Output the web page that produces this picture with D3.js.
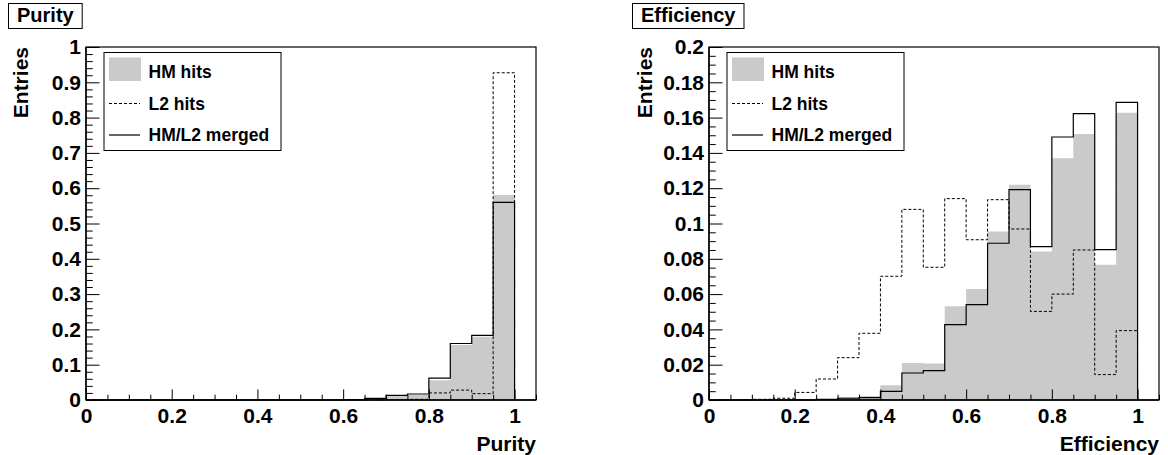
<!DOCTYPE html>
<html>
<head>
<meta charset="utf-8">
<script src="https://cdn.jsdelivr.net/npm/d3@7"></script>
<style>
  html, body { margin: 0; padding: 0; background: #fff; }
  svg { display: block; }
  text { font-family: "Liberation Sans", Arial, Helvetica, sans-serif; font-weight: bold; fill: #000; }
</style>
</head>
<body>
<svg id="chart" width="1168" height="455"></svg>
<script>
// ---------- DATA ----------
const binEdges = [0,0.05,0.1,0.15,0.2,0.25,0.3,0.35,0.4,0.45,0.5,0.55,0.6,0.65,0.7,0.75,0.8,0.85,0.9,0.95,1.0];
const seriesNames = ["HM hits", "L2 hits", "HM/L2 merged"];

const purityHM     = [0,0,0,0,0,0,0,0,0,0,0,0,0.001,0.003,0.011,0.014,0.056,0.156,0.179,0.581];
const purityL2     = [0,0,0,0,0,0,0,0,0,0,0,0,0,0.0005,0.001,0.002,0.020,0.028,0.018,0.927];
const purityMerged = [0,0,0,0,0,0,0,0,0,0,0,0,0.001,0.0047,0.013,0.017,0.062,0.160,0.183,0.560];

const effHM     = [0,0,0,0,0,0.0003,0.0017,0.0023,0.0083,0.0209,0.0207,0.0531,0.0629,0.0954,0.122,0.0842,0.137,0.1507,0.0767,0.1628];
const effL2     = [0,0,0.0004,0.001,0.0043,0.0119,0.024,0.0378,0.0701,0.108,0.0752,0.1141,0.0908,0.1135,0.0969,0.0502,0.060,0.085,0.0144,0.0393];
const effMerged = [0,0,0,0,0,0.0003,0.001,0.0013,0.0049,0.0153,0.0166,0.0427,0.054,0.0888,0.1192,0.0869,0.149,0.1622,0.0852,0.1686];

const xTickValues = [0,0.2,0.4,0.6,0.8,1];
const xTickLabels = ["0","0.2","0.4","0.6","0.8","1"];
const purityYTickValues = [0,0.1,0.2,0.3,0.4,0.5,0.6,0.7,0.8,0.9,1];
const purityYTickLabels = ["0","0.1","0.2","0.3","0.4","0.5","0.6","0.7","0.8","0.9","1"];
const effYTickValues = [0,0.02,0.04,0.06,0.08,0.1,0.12,0.14,0.16,0.18,0.2];
const effYTickLabels = ["0","0.02","0.04","0.06","0.08","0.1","0.12","0.14","0.16","0.18","0.2"];

// ---------- LAYOUT ----------
const svg = d3.select("#chart");
const FILL_GRAY = "#cacaca";
const FONT = "'Liberation Sans', Arial, Helvetica, sans-serif";

const panels = [
  { title: "Purity", xTitle: "Purity", left: 86, right: 536, top: 47, bottom: 400,
    xMax: 1.05, yMax: 1.0, yMinorStep: 0.02,
    yTicks: purityYTickValues, yLabels: purityYTickLabels,
    hm: purityHM, l2: purityL2, merged: purityMerged,
    titleX: 8.5, yTitleX: 28 },
  { title: "Efficiency", xTitle: "Efficiency", left: 709, right: 1159, top: 47, bottom: 400,
    xMax: 1.05, yMax: 0.2, yMinorStep: 0.005,
    yTicks: effYTickValues, yLabels: effYTickLabels,
    hm: effHM, l2: effL2, merged: effMerged,
    titleX: 632.5, yTitleX: 652 }
];

function stepPoints(vals) {
  const pts = [[binEdges[0], 0]];
  vals.forEach((v, i) => { pts.push([binEdges[i], v]); pts.push([binEdges[i + 1], v]); });
  pts.push([binEdges[binEdges.length - 1], 0]);
  return pts;
}

panels.forEach(p => {
  const x = d3.scaleLinear().domain([0, p.xMax]).range([p.left, p.right]);
  const y = d3.scaleLinear().domain([0, p.yMax]).range([p.bottom, p.top]);
  const g = svg.append("g");

  g.append("rect").attr("x", p.left).attr("y", p.top)
    .attr("width", p.right - p.left).attr("height", p.bottom - p.top)
    .attr("fill", "#fff");

  // HM filled histogram
  const area = d3.area().x(d => x(d[0])).y0(y(0)).y1(d => y(d[1]));
  g.append("path").datum(stepPoints(p.hm)).attr("d", area).attr("fill", FILL_GRAY).attr("stroke", "none");

  const line = d3.line().x(d => x(d[0])).y(d => y(d[1]));
  g.append("path").datum(stepPoints(p.l2)).attr("d", line)
    .attr("fill", "none").attr("stroke", "#000").attr("stroke-width", 1)
    .attr("stroke-dasharray", "3,2");
  g.append("path").datum(stepPoints(p.merged)).attr("d", line)
    .attr("fill", "none").attr("stroke", "#000").attr("stroke-width", 1.2);

  // frame
  g.append("rect").attr("x", p.left).attr("y", p.top)
    .attr("width", p.right - p.left).attr("height", p.bottom - p.top)
    .attr("fill", "none").attr("stroke", "#000").attr("stroke-width", 1.2);

  // X axis minor ticks
  const xMinor = d3.range(0, p.xMax + 1e-9, 0.05).filter(v => Math.abs(v / 0.2 - Math.round(v / 0.2)) > 1e-6);
  g.append("g").attr("transform", `translate(0,${p.bottom})`)
    .call(d3.axisBottom(x).tickValues(xMinor).tickSize(-5.3).tickFormat(""))
    .call(a => a.select(".domain").remove());
  const xa = g.append("g").attr("transform", `translate(0,${p.bottom})`)
    .call(d3.axisBottom(x).tickValues(xTickValues).tickSize(-10.6).tickPadding(8.5)
      .tickFormat((d, i) => xTickLabels[i]));
  xa.select(".domain").remove();
  xa.selectAll("text").style("font-size", "21px").style("font-family", FONT).style("font-weight", "bold");

  // Y axis
  const yMinor = d3.range(0, p.yMax + 1e-9, p.yMinorStep)
    .filter(v => !p.yTicks.some(t => Math.abs(t - v) < 1e-9));
  g.append("g").attr("transform", `translate(${p.left},0)`)
    .call(d3.axisLeft(y).tickValues(yMinor).tickSize(-6.75).tickFormat(""))
    .call(a => a.select(".domain").remove());
  const ya = g.append("g").attr("transform", `translate(${p.left},0)`)
    .call(d3.axisLeft(y).tickValues(p.yTicks).tickSize(-13.5).tickPadding(5)
      .tickFormat((d, i) => p.yLabels[i]));
  ya.select(".domain").remove();
  ya.selectAll("text").style("font-size", "21px").style("font-family", FONT).style("font-weight", "bold");
  g.selectAll(".tick line").attr("stroke", "#000").attr("stroke-width", 1);

  g.append("line").attr("x1", p.left).attr("x2", p.right).attr("y1", p.bottom).attr("y2", p.bottom)
    .attr("stroke", "#000").attr("stroke-width", 1.4);
  g.append("line").attr("x1", p.left).attr("x2", p.left).attr("y1", p.top).attr("y2", p.bottom)
    .attr("stroke", "#000").attr("stroke-width", 1.4);

  // axis titles
  g.append("text").attr("x", p.right).attr("y", 451).attr("text-anchor", "end")
    .style("font-size", "21px").text(p.xTitle);
  g.append("text").attr("transform", `translate(${p.yTitleX},${p.top}) rotate(-90)`)
    .attr("text-anchor", "end").style("font-size", "21px").text("Entries");

  // title box
  const tt = g.append("text").attr("x", p.titleX + 8.5).attr("y", 22).style("font-size", "20px").text(p.title);
  const tw = tt.node().getComputedTextLength();
  g.insert("rect", () => tt.node()).attr("x", p.titleX).attr("y", 3.5)
    .attr("width", tw + 17).attr("height", 25).attr("fill", "#fff").attr("stroke", "#000").attr("stroke-width", 1);

  // legend
  const lx = p.left + 18, ly = 52.5, lw = 177, lh = 98;
  const lg = g.append("g");
  lg.append("rect").attr("x", lx).attr("y", ly).attr("width", lw).attr("height", lh)
    .attr("fill", "#fff").attr("stroke", "#000").attr("stroke-width", 1);
  const rowY = [ly + 19.5, ly + 51, ly + 82.5];
  lg.append("rect").attr("x", lx + 5).attr("y", ly + 5).attr("width", 32).attr("height", 23.5).attr("fill", FILL_GRAY);
  lg.append("line").attr("x1", lx + 5).attr("x2", lx + 36).attr("y1", rowY[1]).attr("y2", rowY[1])
    .attr("stroke", "#000").attr("stroke-dasharray", "3,2");
  lg.append("line").attr("x1", lx + 5).attr("x2", lx + 36).attr("y1", rowY[2]).attr("y2", rowY[2])
    .attr("stroke", "#000").attr("stroke-width", 1.2);
  seriesNames.forEach((n, i) => {
    lg.append("text").attr("x", lx + 44.5).attr("y", rowY[i]).attr("dy", "0.36em")
      .style("font-size", "17.5px").text(n);
  });
});
</script>
</body>
</html>
